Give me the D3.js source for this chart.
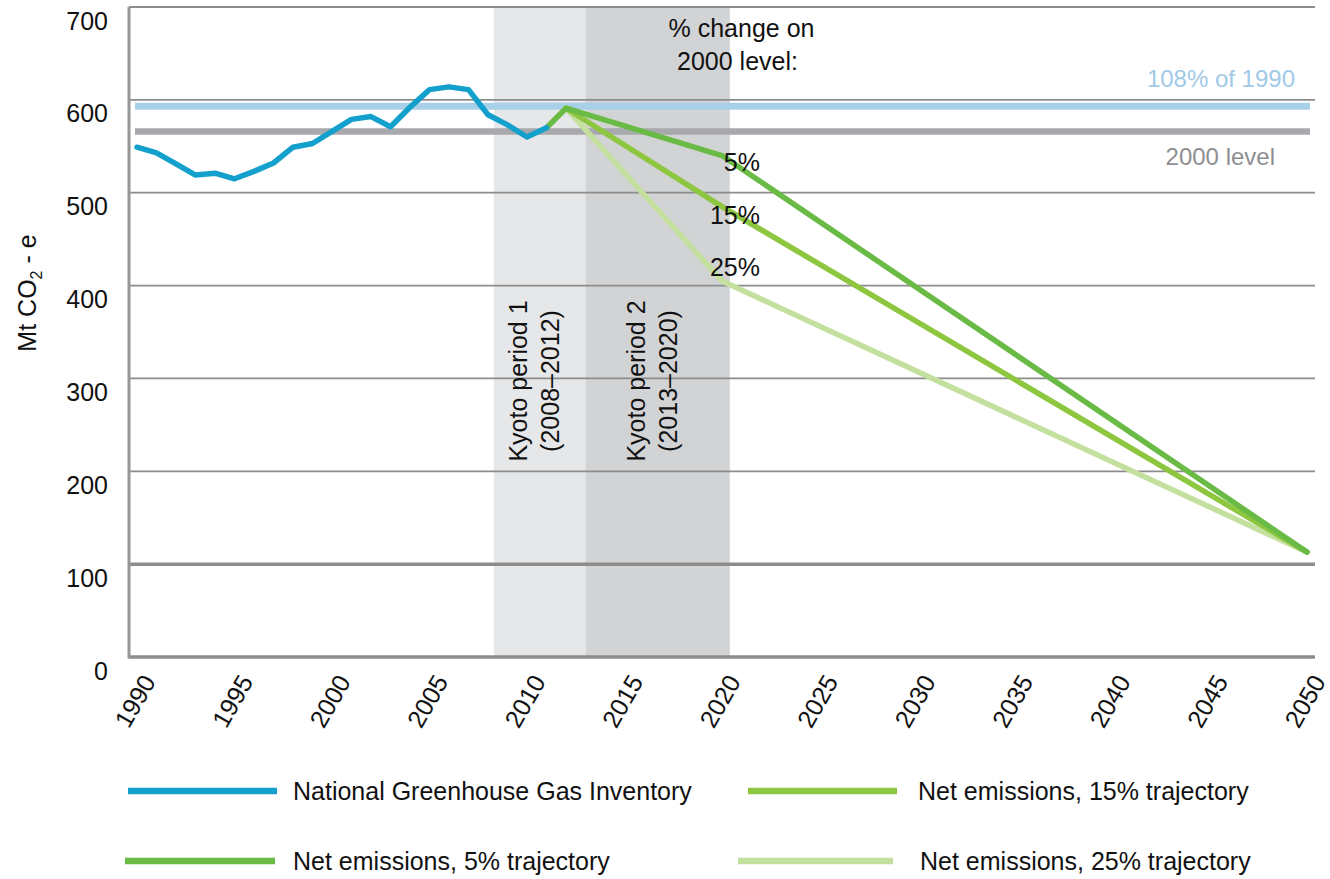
<!DOCTYPE html>
<html>
<head>
<meta charset="utf-8">
<script src="https://cdn.jsdelivr.net/npm/d3@7/dist/d3.min.js"></script>
<style>
body { margin: 0; background: #fff; }
text { font-family: "Liberation Sans", Arial, sans-serif; fill: #111; }
</style>
</head>
<body>
<svg id="chart" width="1330" height="879"></svg>
<script>
// data
var inventoryYears = [1990, 1991, 1992, 1993, 1994, 1995, 1996, 1997, 1998, 1999, 2000,
    2001, 2002, 2003, 2004, 2005, 2006, 2007, 2008, 2009, 2010, 2011];
var inventory = [549, 543, 531, 519, 521, 515, 523, 532, 549, 553, 566,
    579, 582, 571, 592, 611, 614, 611, 584, 573, 560, 570];
var traj5Years = [2011, 2012, 2020, 2050];
var traj5 = [570, 591, 540, 113];
var trajYears = [2012, 2020, 2050];
var traj15 = [591, 485, 113];
var traj25 = [591, 405, 113];
var level1990 = 593;   // 108% of 1990
var level2000 = 566;
var kyotoBands = [[2008.3, 2013], [2013, 2020.4]];
var kyotoLabels = [["Kyoto period 1", "(2008\u20132012)"], ["Kyoto period 2", "(2013\u20132020)"]];
var changeLabels = ["5%", "15%", "25%"];
var changeValues = [538, 481, 425];
var yTicks = [0, 100, 200, 300, 400, 500, 600, 700];
var xTicks = [1990, 1995, 2000, 2005, 2010, 2015, 2020, 2025, 2030, 2035, 2040, 2045, 2050];

(function () {
    var colors = {
        inventory: "#14a0cc",
        t5: "#69bb45",
        t15: "#8dc63f",
        t25: "#c4e09e",
        ref1990: "#a8d0e8",
        ref2000: "#a8a9ac",
        grid: "#8c8c8c"
    };

    var svg = d3.select("#chart");
    var plotLeft = 129, plotRight = 1315, plotTop = 7, plotBottom = 657;

    var x = d3.scaleLinear().domain([1990, 2050]).range([137, 1307]);
    var y = d3.scaleLinear().domain([0, 700]).range([plotBottom, plotTop]);

    svg.append("rect").attr("width", 1330).attr("height", 879).attr("fill", "#fff");

    // Kyoto shading
    svg.selectAll("rect.band")
        .data(kyotoBands)
        .enter().append("rect")
        .attr("class", "band")
        .attr("x", function (d) { return x(d[0]); })
        .attr("width", function (d) { return x(d[1]) - x(d[0]); })
        .attr("y", plotTop)
        .attr("height", plotBottom - plotTop)
        .attr("fill", function (d, i) { return i === 0 ? "#e6e7e9" : "#d2d3d5"; });

    // gridlines (100 line and base drawn heavier as in the original)
    svg.selectAll("line.grid")
        .data(yTicks)
        .enter().append("line")
        .attr("class", "grid")
        .attr("x1", plotLeft).attr("x2", plotRight)
        .attr("y1", function (d) { return y(d); })
        .attr("y2", function (d) { return y(d); })
        .attr("stroke", colors.grid)
        .attr("stroke-width", function (d) { return d <= 100 ? 3.5 : 1.8; });

    svg.append("line")
        .attr("x1", plotLeft).attr("x2", plotLeft)
        .attr("y1", plotTop).attr("y2", plotBottom + 1.5)
        .attr("stroke", "#969696").attr("stroke-width", 3);

    // y tick labels
    svg.selectAll("text.ytick")
        .data(yTicks)
        .enter().append("text")
        .attr("class", "ytick")
        .attr("x", 108)
        .attr("y", function (d) { return y(d) + 22.5; })
        .attr("text-anchor", "end")
        .attr("font-size", 25)
        .text(function (d) { return d; });

    // x tick labels
    svg.selectAll("text.xtick")
        .data(xTicks)
        .enter().append("text")
        .attr("class", "xtick")
        .attr("transform", function (d) { return "translate(" + (x(d) + 12) + "," + 677 + ") rotate(-60)"; })
        .attr("text-anchor", "end")
        .attr("dy", "0.35em")
        .attr("font-size", 25)
        .text(function (d) { return d; });

    // y axis title
    var yTitle = svg.append("text")
        .attr("transform", "translate(36,293) rotate(-90)")
        .attr("text-anchor", "middle")
        .attr("font-size", 25);
    yTitle.append("tspan").text("Mt CO");
    yTitle.append("tspan").attr("font-size", 16).attr("dy", 6).text("2");
    yTitle.append("tspan").attr("dy", -6).text(" - e");

    // Kyoto labels
    kyotoBands.forEach(function (b, i) {
        var cx = (x(b[0]) + x(b[1])) / 2 - 6;
        var t = svg.append("text")
            .attr("transform", "translate(" + cx + ",381) rotate(-90)")
            .attr("text-anchor", "middle")
            .attr("font-size", 25);
        t.append("tspan").attr("x", 0).attr("y", -16).attr("dominant-baseline", "central").text(kyotoLabels[i][0]);
        t.append("tspan").attr("x", 0).attr("y", 16).attr("dominant-baseline", "central").text(kyotoLabels[i][1]);
    });

    // reference levels
    function refLine(value, color, width) {
        svg.append("line")
            .attr("x1", x(1990) - 2).attr("x2", x(2050) + 3)
            .attr("y1", y(value)).attr("y2", y(value))
            .attr("stroke", color).attr("stroke-width", width);
    }
    refLine(level1990, colors.ref1990, 7);
    refLine(level2000, colors.ref2000, 6.5);

    svg.append("text")
        .attr("x", 1295).attr("y", y(level1990) - 19)
        .attr("text-anchor", "end").attr("font-size", 24)
        .style("fill", "#a0cae8")
        .text("108% of 1990");
    svg.append("text")
        .attr("x", 1275).attr("y", y(level2000) + 34)
        .attr("text-anchor", "end").attr("font-size", 24)
        .style("fill", "#8e8e90")
        .text("2000 level");

    // data lines
    var line = d3.line()
        .x(function (d) { return x(d[0]); })
        .y(function (d) { return y(d[1]); });

    function drawSeries(xs, ys, color) {
        svg.append("path")
            .datum(d3.zip(xs, ys))
            .attr("d", line)
            .attr("fill", "none")
            .attr("stroke", color)
            .attr("stroke-width", 5.5)
            .attr("stroke-linejoin", "round")
            .attr("stroke-linecap", "round");
    }
    drawSeries(trajYears, traj25, colors.t25);
    drawSeries(trajYears, traj15, colors.t15);
    drawSeries(traj5Years, traj5, colors.t5);
    drawSeries(inventoryYears, inventory, colors.inventory);

    // "% change" annotation
    var ann = svg.append("text")
        .attr("text-anchor", "middle")
        .attr("font-size", 25);
    ann.append("tspan").attr("x", x(2021)).attr("y", 37).text("% change on");
    ann.append("tspan").attr("x", x(2021) - 4).attr("y", 70).text("2000 level:");

    svg.selectAll("text.pct")
        .data(changeLabels)
        .enter().append("text")
        .attr("class", "pct")
        .attr("x", x(2020) + 38)
        .attr("y", function (d, i) { return y(changeValues[i]) + 14; })
        .attr("text-anchor", "end")
        .attr("font-size", 25)
        .text(function (d) { return d; });

    // legend
    var legendItems = [
        { label: "National Greenhouse Gas Inventory", color: colors.inventory, x0: 128, x1: 277, tx: 293, y: 791 },
        { label: "Net emissions, 15% trajectory", color: colors.t15, x0: 748, x1: 897, tx: 918, y: 791 },
        { label: "Net emissions, 5% trajectory", color: colors.t5, x0: 125, x1: 275, tx: 293, y: 861 },
        { label: "Net emissions, 25% trajectory", color: colors.t25, x0: 738, x1: 893, tx: 920, y: 861 }
    ];
    var lg = svg.selectAll("g.legend")
        .data(legendItems)
        .enter().append("g")
        .attr("class", "legend");
    lg.append("line")
        .attr("x1", function (d) { return d.x0; })
        .attr("x2", function (d) { return d.x1; })
        .attr("y1", function (d) { return d.y; })
        .attr("y2", function (d) { return d.y; })
        .attr("stroke", function (d) { return d.color; })
        .attr("stroke-width", 6.5);
    lg.append("text")
        .attr("x", function (d) { return d.tx; })
        .attr("y", function (d) { return d.y + 9; })
        .attr("font-size", 25)
        .text(function (d) { return d.label; });
})();
</script>
</body>
</html>
